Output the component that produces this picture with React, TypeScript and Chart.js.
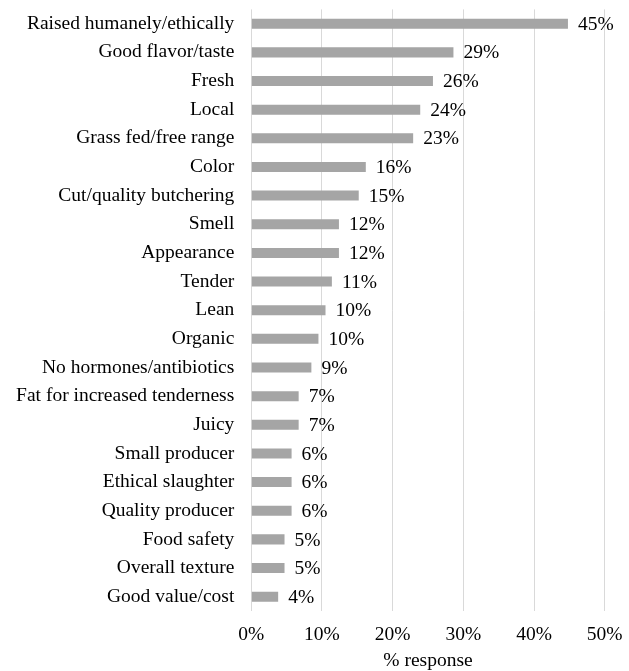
import React, { useEffect, useRef } from "react";
import { Chart, registerables } from "chart.js";

Chart.register(...registerables);

const categories = [
  "Raised humanely/ethically",
  "Good flavor/taste",
  "Fresh",
  "Local",
  "Grass fed/free range",
  "Color",
  "Cut/quality butchering",
  "Smell",
  "Appearance",
  "Tender",
  "Lean",
  "Organic",
  "No hormones/antibiotics",
  "Fat for increased tenderness",
  "Juicy",
  "Small producer",
  "Ethical slaughter",
  "Quality producer",
  "Food safety",
  "Overall texture",
  "Good value/cost",
];

const values = [
  44.8, 28.6, 25.7, 23.9, 22.9, 16.2, 15.2, 12.4, 12.4, 11.4, 10.5, 9.5, 8.5,
  6.7, 6.7, 5.7, 5.7, 5.7, 4.7, 4.7, 3.8,
];

const valueLabels = [
  "45%", "29%", "26%", "24%", "23%", "16%", "15%", "12%", "12%", "11%",
  "10%", "10%", "9%", "7%", "7%", "6%", "6%", "6%", "5%", "5%", "4%",
];

const xTicks = [0, 10, 20, 30, 40, 50];
const xTitle = "% response";

const FONT_FAMILY = '"Liberation Serif", "Times New Roman", serif';
const FONT_SIZE = 19.5;

const valueLabelPlugin = {
  id: "valueLabels",
  afterDatasetsDraw(chart: any) {
    const ctx = chart.ctx;
    const meta = chart.getDatasetMeta(0);
    ctx.save();
    ctx.font = `${FONT_SIZE}px ${FONT_FAMILY}`;
    ctx.fillStyle = "#000";
    ctx.textAlign = "left";
    ctx.textBaseline = "middle";
    meta.data.forEach((el: any, i: number) => {
      ctx.fillText(valueLabels[i], el.x + 10, el.y + 1);
    });
    ctx.restore();
  },
};

export default function App() {
  const canvasRef = useRef<HTMLCanvasElement | null>(null);

  useEffect(() => {
    if (!canvasRef.current) return;
    const chart = new Chart(canvasRef.current, {
      type: "bar",
      data: {
        labels: categories,
        datasets: [
          {
            data: values,
            backgroundColor: "#a5a5a5",
            barPercentage: 0.35,
            categoryPercentage: 1,
          },
        ],
      },
      options: {
        indexAxis: "y",
        animation: false,
        responsive: true,
        maintainAspectRatio: false,
        layout: { padding: { top: 9.4, right: 24.3, bottom: 0, left: 0 } },
        plugins: {
          legend: { display: false },
          tooltip: { enabled: false },
        },
        scales: {
          x: {
            min: 0,
            max: 50,
            afterBuildTicks: (scale: any) => {
              scale.ticks = xTicks.map((v) => ({ value: v }));
            },
            afterFit: (scale: any) => {
              scale.height = 60;
              scale.paddingLeft = 0;
              scale.paddingRight = 0;
              scale.paddingTop = 0;
              scale.paddingBottom = 0;
            },
            grid: { color: "#d9d9d9", lineWidth: 1, drawTicks: false },
            border: { display: false },
            ticks: {
              padding: 12,
              color: "#000",
              font: { family: FONT_FAMILY, size: FONT_SIZE },
              callback: (v: any) => `${v}%`,
              maxRotation: 0,
            },
            title: {
              display: true,
              text: xTitle,
              color: "#000",
              font: { family: FONT_FAMILY, size: FONT_SIZE, lineHeight: 1 },
              padding: { top: 0, bottom: 0 },
            },
          },
          y: {
            afterFit: (scale: any) => {
              scale.width = 251.3;
              scale.paddingTop = 0;
              scale.paddingBottom = 0;
              scale.paddingLeft = 0;
              scale.paddingRight = 0;
            },
            grid: { display: false, drawTicks: false },
            border: { display: false },
            ticks: {
              padding: 17,
              color: "#000",
              font: { family: FONT_FAMILY, size: FONT_SIZE },
              autoSkip: false,
            },
          },
        },
      },
      plugins: [valueLabelPlugin],
    });
    return () => chart.destroy();
  }, []);

  return (
    <div style={{ position: "fixed", left: 0, top: 0, width: 629, height: 671 }}>
      <canvas ref={canvasRef} />
    </div>
  );
}
